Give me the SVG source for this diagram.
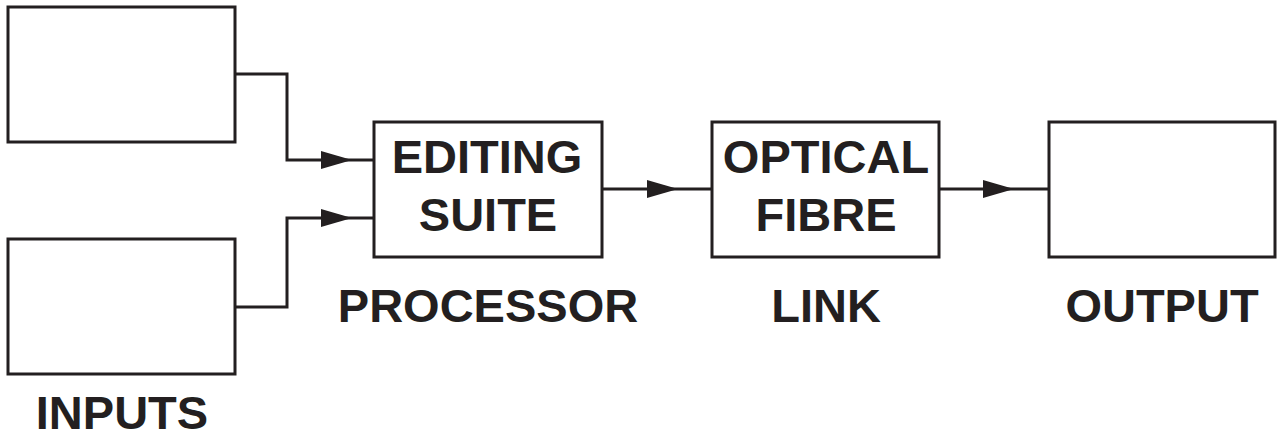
<svg xmlns="http://www.w3.org/2000/svg" width="1277" height="439" viewBox="0 0 1277 439">
<style>
.box{fill:#fff;stroke:#231f20;stroke-width:3}
.ln{fill:none;stroke:#231f20;stroke-width:3}
text{font-family:"Liberation Sans",Arial,sans-serif;font-weight:bold;font-size:47px;fill:#231f20;text-anchor:middle}
</style>
<defs>
<marker id="ah" viewBox="0 0 31 18" refX="31" refY="9" markerWidth="31" markerHeight="18" markerUnits="userSpaceOnUse" orient="auto">
<path d="M0,0 L31,9 L0,18 Z" fill="#231f20"/>
</marker>
</defs>
<g id="connectors">
<path class="ln" d="M235,74 H287 V160 H352" marker-end="url(#ah)"/>
<path class="ln" d="M352,160 H374"/>
<path class="ln" d="M235,307 H287 V218 H352" marker-end="url(#ah)"/>
<path class="ln" d="M352,218 H374"/>
<path class="ln" d="M602,189 H678" marker-end="url(#ah)"/>
<path class="ln" d="M678,189 H712"/>
<path class="ln" d="M939,189 H1014" marker-end="url(#ah)"/>
<path class="ln" d="M1014,189 H1049"/>
</g>
<g id="input1"><rect class="box" x="8" y="7" width="227" height="135"/></g>
<g id="input2"><rect class="box" x="8" y="239" width="227" height="135"/><text x="122" y="429">INPUTS</text></g>
<g id="processor"><rect class="box" x="374" y="122" width="228" height="135"/>
<text x="487" y="173">EDITING</text><text x="488" y="231">SUITE</text><text x="488" y="322">PROCESSOR</text></g>
<g id="link"><rect class="box" x="712" y="122" width="227" height="135"/>
<text x="826" y="173">OPTICAL</text><text x="826" y="231">FIBRE</text><text x="826" y="322">LINK</text></g>
<g id="output"><rect class="box" x="1049" y="122" width="226" height="135"/><text x="1162" y="322">OUTPUT</text></g>
</svg>
